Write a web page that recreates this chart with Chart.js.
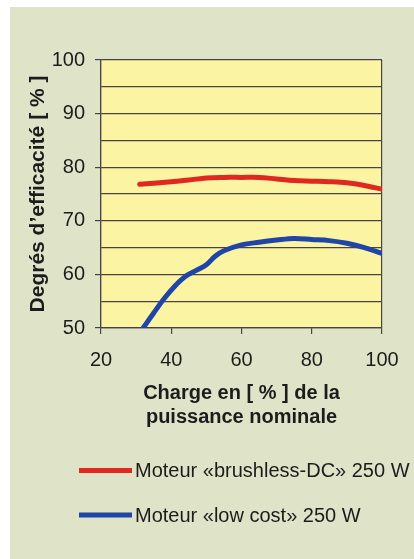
<!DOCTYPE html>
<html>
<head>
<meta charset="utf-8">
<script src="https://cdn.jsdelivr.net/npm/chart.js@4/dist/chart.umd.min.js"></script>
<style>
  html, body { margin: 0; padding: 0; background: #ffffff; }
  #bg { position: absolute; left: 10px; top: 7px; width: 404px; height: 552px; background: #dfe4c9; }
  #wrap { position: absolute; left: 0; top: 0; width: 414px; height: 559px; }
</style>
</head>
<body>
<div id="bg"></div>
<div id="wrap"><canvas id="c" width="414" height="559"></canvas></div>
<script>
// Data
const brushlessX = [31, 35, 40, 45, 50, 55, 60, 65, 70, 75, 80, 85, 90, 95, 100];
const brushlessY = [76.8, 77.0, 77.3, 77.6, 78.0, 78.1, 78.1, 78.1, 77.8, 77.5, 77.4, 77.3, 77.1, 76.6, 75.9];
const lowCostX = [32, 35, 38, 41, 44, 47, 50, 52.5, 55, 60, 65, 70, 75, 80, 85, 90, 95, 100];
const lowCostY = [50, 52.8, 55.5, 57.8, 59.6, 60.7, 61.8, 63.4, 64.4, 65.5, 66.0, 66.4, 66.7, 66.5, 66.3, 65.8, 65.0, 63.9];
const seriesLabels = ['Moteur «brushless-DC» 250 W', 'Moteur «low cost» 250 W'];
const xTitle = ['Charge en [ % ] de la', 'puissance nominale'];
const yTitle = 'Degrés d\u2019efficacité [ % ]';

const FONT = "'Liberation Sans', Arial, sans-serif";
const GRID = '#4a4343';

function pts(xs, ys) { return xs.map((x, i) => ({ x: x, y: ys[i] })); }

const plotBg = {
  id: 'plotBg',
  beforeDraw(chart) {
    const { ctx, chartArea: a } = chart;
    ctx.save();
    ctx.fillStyle = '#fbf5a3';
    ctx.fillRect(a.left, a.top, a.right - a.left, a.bottom - a.top);
    ctx.restore();
  }
};

const customLegend = {
  id: 'customLegend',
  afterDraw(chart) {
    const ctx = chart.ctx;
    const rows = [470.5, 515];
    ctx.save();
    chart.data.datasets.forEach((ds, i) => {
      const y = rows[i];
      ctx.strokeStyle = ds.borderColor;
      ctx.lineWidth = 5;
      ctx.lineCap = 'butt';
      ctx.beginPath();
      ctx.moveTo(79, y);
      ctx.lineTo(132, y);
      ctx.stroke();
      ctx.fillStyle = '#1c1c1c';
      ctx.font = '20px ' + FONT;
      ctx.textBaseline = 'middle';
      ctx.textAlign = 'left';
      ctx.fillText(ds.label, 135, y + 1);
    });
    ctx.restore();
  }
};

new Chart(document.getElementById('c'), {
  type: 'scatter',
  data: {
    datasets: [
      {
        label: seriesLabels[0],
        data: pts(brushlessX, brushlessY),
        showLine: true,
        borderColor: '#e0281f',
        borderWidth: 5,
        pointRadius: 0,
        tension: 0.35,
        borderCapStyle: 'round'
      },
      {
        label: seriesLabels[1],
        data: pts(lowCostX, lowCostY),
        showLine: true,
        borderColor: '#1f45a6',
        borderWidth: 5,
        pointRadius: 0,
        tension: 0.35,
        borderCapStyle: 'round'
      }
    ]
  },
  options: {
    responsive: false,
    animation: false,
    layout: { padding: { top: 60, right: 32, left: 0, bottom: 130 } },
    plugins: { legend: { display: false }, tooltip: { enabled: false } },
    scales: {
      x: {
        type: 'linear',
        min: 20, max: 100,
        afterFit(s) { s.height = 101; },
        ticks: { stepSize: 20, autoSkip: false, color: '#1c1c1c', padding: 14, font: { family: FONT, size: 20 } },
        grid: {
          color: (c) => (c.tick && (c.tick.value === 100 || c.tick.value === 20)) ? GRID : 'rgba(0,0,0,0)',
          tickColor: GRID,
          tickLength: 6,
          lineWidth: 1.2
        },
        border: { color: GRID, width: 1.2 },
        title: {
          display: true,
          text: xTitle,
          color: '#1c1c1c',
          padding: { top: 0, bottom: 0 },
          font: { family: FONT, size: 20, weight: 'bold', lineHeight: 1.2 }
        }
      },
      y: {
        min: 50, max: 100,
        afterFit(s) { s.width = 101; },
        ticks: {
          stepSize: 5,
          autoSkip: false,
          color: '#1c1c1c',
          padding: 10,
          font: { family: FONT, size: 20 },
          callback: (v) => (v % 10 === 0 ? String(v) : '')
        },
        grid: {
          color: GRID,
          tickColor: (c) => (c.tick && c.tick.value % 10 === 0) ? GRID : 'rgba(0,0,0,0)',
          tickLength: 6,
          lineWidth: 1.2
        },
        border: { color: GRID, width: 1.2 },
        title: {
          display: true,
          text: yTitle,
          color: '#1c1c1c',
          padding: { top: 26, bottom: 0 },
          font: { family: FONT, size: 21, weight: 'bold', lineHeight: 1.2 }
        }
      }
    }
  },
  plugins: [plotBg, customLegend]
});
</script>
</body>
</html>
